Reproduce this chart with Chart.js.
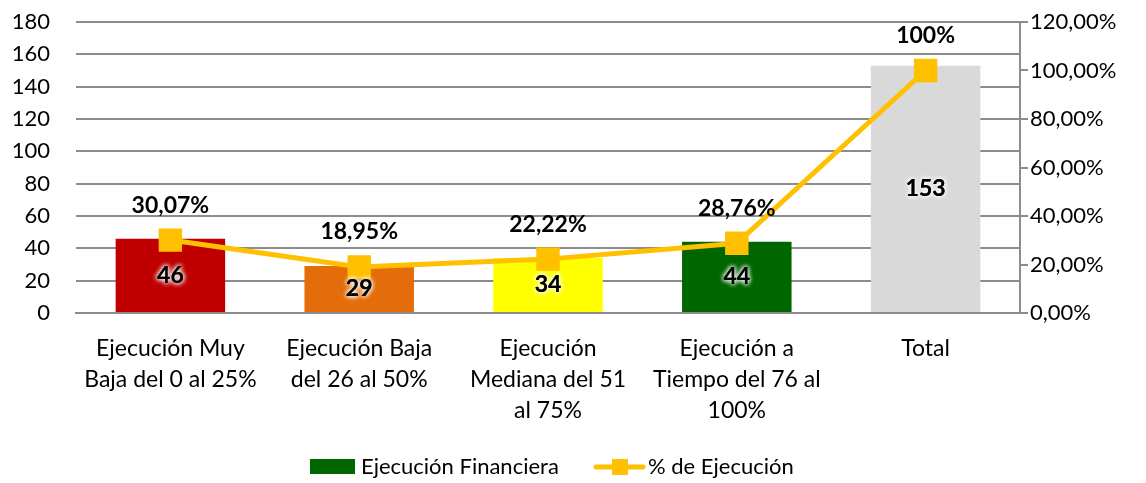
<!DOCTYPE html>
<html lang="es">
<head>
  <meta charset="UTF-8">
  <title>Ejecución Financiera</title>
  <script src="https://cdn.jsdelivr.net/npm/chart.js"></script>
  <style>
    html, body { margin: 0; padding: 0; background: #fff; }
    .chart-box { position: relative; width: 1146px; height: 483px; }
  </style>
</head>
<body>
  <div class="chart-box">
    <canvas id="ejecChart"></canvas>
  </div>
  <script>
    // Data
    const categories = [
      ["Ejecución Muy", "Baja del 0 al 25%"],
      ["Ejecución Baja", "del 26 al 50%"],
      ["Ejecución", "Mediana del 51", "al 75%"],
      ["Ejecución a", "Tiempo del 76 al", "100%"],
      "Total"
    ];
    const financiera = [46, 29, 34, 44, 153];
    const porcentaje = [30.07, 18.95, 22.22, 28.76, 100];
    const leftTicks = [0, 20, 40, 60, 80, 100, 120, 140, 160, 180];
    const rightTicks = [0, 20, 40, 60, 80, 100, 120];

    const barColors = ["#C00000", "#E46C0A", "#FFFF00", "#006600", "#D9D9D9"];
    const lineColor = "#FFC000";
    const fontFamily = "Lato, 'Open Sans', sans-serif";

    function fmtPct(v, decimalsAlways) {
      if (!decimalsAlways && v % 1 === 0) return v + "%";
      return v.toFixed(2).replace(".", ",") + "%";
    }

    // Draws value labels (bars centered with white glow, line above points)
    const labelPlugin = {
      id: "valueLabels",
      afterDatasetsDraw(chart) {
        const ctx = chart.ctx;
        ctx.save();
        ctx.textAlign = "center";
        ctx.textBaseline = "middle";
        ctx.font = "bold 23px " + fontFamily;

        const barMeta = chart.getDatasetMeta(1);
        barMeta.data.forEach((bar, i) => {
          const y = (bar.y + bar.base) / 2;
          ctx.shadowColor = "rgba(255,255,255,0.9)";
          ctx.shadowBlur = 5;
          ctx.fillStyle = "#000";
          for (let k = 0; k < 3; k++) ctx.fillText(String(financiera[i]), bar.x, y);
        });
        ctx.shadowBlur = 0;
        ctx.shadowColor = "transparent";

        const lineMeta = chart.getDatasetMeta(0);
        lineMeta.data.forEach((pt, i) => {
          ctx.fillStyle = "#000";
          ctx.fillText(fmtPct(porcentaje[i], false), pt.x, pt.y - 35);
        });
        ctx.restore();
      }
    };

    // Bottom legend drawn like the spreadsheet one
    const legendPlugin = {
      id: "bottomLegend",
      afterDraw(chart) {
        const ctx = chart.ctx;
        const y = 467;
        ctx.save();
        ctx.font = "22px " + fontFamily;
        ctx.textBaseline = "middle";
        ctx.textAlign = "left";

        ctx.fillStyle = barColors[3];
        ctx.fillRect(310, y - 8, 45, 15);
        ctx.fillStyle = "#000";
        ctx.fillText("Ejecución Financiera", 361, y);

        ctx.strokeStyle = lineColor;
        ctx.lineWidth = 5;
        ctx.lineCap = "round";
        ctx.beginPath();
        ctx.moveTo(596, y);
        ctx.lineTo(643, y);
        ctx.stroke();
        ctx.fillStyle = lineColor;
        ctx.fillRect(612, y - 8, 16, 16);
        ctx.fillStyle = "#000";
        ctx.fillText("% de Ejecución", 648, y);
        ctx.restore();
      }
    };

    function buildChart() {
      const ctx = document.getElementById("ejecChart").getContext("2d");
      new Chart(ctx, {
        data: {
          labels: categories,
          datasets: [
            {
              type: "line",
              label: "% de Ejecución",
              data: porcentaje,
              yAxisID: "y1",
              borderColor: lineColor,
              backgroundColor: lineColor,
              borderWidth: 5,
              pointStyle: "rect",
              pointRadius: 13,
              pointHoverRadius: 13,
              tension: 0,
              order: 0
            },
            {
              type: "bar",
              label: "Ejecución Financiera",
              data: financiera,
              yAxisID: "y",
              backgroundColor: barColors,
              barPercentage: 0.58,
              categoryPercentage: 1,
              order: 1
            }
          ]
        },
        options: {
          responsive: true,
          maintainAspectRatio: false,
          animation: false,
          layout: { padding: { top: 22, left: 0, right: 0, bottom: 0 } },
          plugins: {
            legend: { display: false },
            tooltip: { enabled: false }
          },
          scales: {
            x: {
              grid: { display: false, drawTicks: false },
              border: { display: true, color: "#8C8C8C", width: 2 },
              ticks: {
                color: "#000",
                padding: 20,
                maxRotation: 0,
                autoSkip: false,
                font: { family: fontFamily, size: 23, lineHeight: 1.35 }
              },
              afterFit: s => { s.height = 170; s.paddingTop = 0; s.paddingBottom = 0; }
            },
            y: {
              position: "left",
              min: 0,
              max: 180,
              afterBuildTicks: s => { s.ticks = leftTicks.map(v => ({ value: v })); },
              grid: { color: "#8C8C8C", lineWidth: 2, drawTicks: false },
              border: { display: false },
              ticks: {
                color: "#000",
                padding: 26,
                font: { family: fontFamily, size: 22 }
              },
              afterFit: s => { s.width = 76; s.paddingTop = 0; s.paddingBottom = 0; }
            },
            y1: {
              position: "right",
              min: 0,
              max: 120,
              afterBuildTicks: s => { s.ticks = rightTicks.map(v => ({ value: v })); },
              grid: { drawOnChartArea: false, color: "#8C8C8C", lineWidth: 2, tickLength: 8 },
              border: { display: true, color: "#8C8C8C", width: 2 },
              ticks: {
                color: "#000",
                padding: 2,
                callback: v => fmtPct(v, true),
                font: { family: fontFamily, size: 22 }
              },
              afterFit: s => { s.width = 126; s.paddingTop = 0; s.paddingBottom = 0; }
            }
          }
        },
        plugins: [labelPlugin, legendPlugin]
      });
    }

    window.onload = buildChart;
  </script>
</body>
</html>
